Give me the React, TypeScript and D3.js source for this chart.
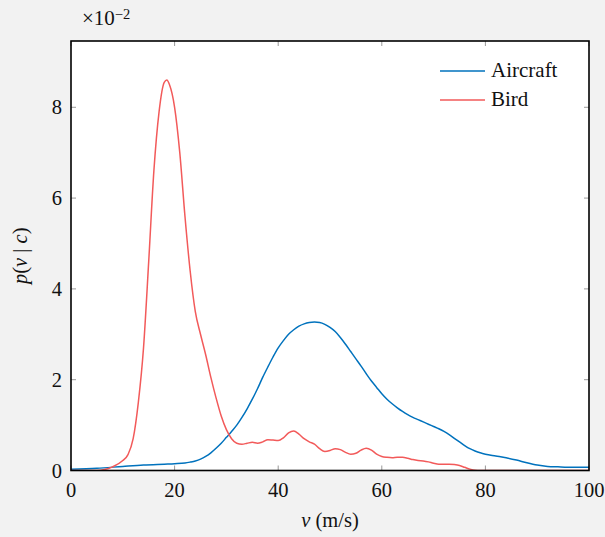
import React from "react";
import * as d3 from "d3";

const W = 605;
const H = 537;

const xTicks = [0, 20, 40, 60, 80, 100];
const yTicks = [0, 2, 4, 6, 8];

const aircraftV = [0, 5, 10, 14, 18, 20, 22, 23, 24, 25, 26, 27, 28, 29, 30, 31, 32, 33, 34, 35, 36, 37, 38, 39, 40, 41, 42, 43, 44, 45, 46, 47, 48, 49, 50, 51, 52, 53, 54, 55, 56, 57, 58, 59, 60, 61, 62, 63, 64, 65, 66, 67, 68, 69, 70, 71, 72, 73, 74, 75, 76, 77, 78, 79, 80, 82, 84, 86, 88, 90, 92, 94, 97, 100];
const aircraftP = [0.03, 0.05, 0.09, 0.12, 0.14, 0.15, 0.165, 0.185, 0.21, 0.25, 0.31, 0.39, 0.49, 0.6, 0.73, 0.86, 1.0, 1.17, 1.36, 1.57, 1.8, 2.05, 2.28, 2.5, 2.7, 2.86, 3.0, 3.1, 3.18, 3.23, 3.26, 3.27, 3.26, 3.22, 3.15, 3.06, 2.93, 2.78, 2.62, 2.46, 2.3, 2.13, 1.97, 1.83, 1.69, 1.57, 1.47, 1.38, 1.3, 1.23, 1.17, 1.12, 1.07, 1.02, 0.97, 0.92, 0.86, 0.79, 0.71, 0.63, 0.55, 0.48, 0.43, 0.39, 0.36, 0.32, 0.28, 0.23, 0.17, 0.12, 0.09, 0.08, 0.07, 0.07];

const birdV = [0, 5, 6.5, 8, 10, 11, 12, 13, 14, 15, 16, 17, 18, 18.5, 19, 20, 21, 22, 23, 24, 25, 26, 27, 28, 29, 30, 31, 32, 33, 34, 35, 36, 37, 38, 39, 40, 41, 42, 43, 44, 45, 46, 47, 48, 49, 50, 51, 52, 53, 54, 55, 56, 57, 58, 59, 60, 61, 62, 63, 64, 65, 66, 67, 68, 69, 70, 71, 72, 73, 74, 75, 76, 77, 78, 79, 90, 100];
const birdP = [0, 0, 0.02, 0.08, 0.22, 0.35, 0.7, 1.5, 2.7, 4.6, 6.6, 7.9, 8.55, 8.6, 8.5, 8.0, 7.0, 5.6, 4.4, 3.5, 3.0, 2.55, 2.05, 1.6, 1.2, 0.9, 0.7, 0.6, 0.58, 0.6, 0.62, 0.6, 0.63, 0.68, 0.67, 0.66, 0.72, 0.83, 0.87, 0.8, 0.7, 0.63, 0.58, 0.48, 0.42, 0.44, 0.48, 0.46, 0.4, 0.36, 0.38, 0.45, 0.49, 0.45, 0.36, 0.31, 0.29, 0.28, 0.29, 0.29, 0.27, 0.24, 0.22, 0.21, 0.19, 0.16, 0.14, 0.14, 0.14, 0.13, 0.11, 0.07, 0.03, 0.005, 0, 0, 0];

const seriesNames = ["Aircraft", "Bird"];
const seriesColors = ["#0072bd", "#f25a5a"];

const FONT = "Liberation Serif";

export default function App() {
  const left = 71, right = 589, top = 41, bottom = 470.5;
  const x = d3.scaleLinear().domain([0, 100]).range([left, right]);
  const y = d3.scaleLinear().domain([0, 9.46]).range([bottom, top]);
  const line = d3
    .line<[number, number]>()
    .x((d) => x(d[0]))
    .y((d) => y(d[1]))
    .curve(d3.curveMonotoneX);
  const aData = aircraftV.map((v, i) => [v, aircraftP[i]] as [number, number]);
  const bData = birdV.map((v, i) => [v, birdP[i]] as [number, number]);
  const series = [aData, bData];
  const tickLen = 5;
  const fs = 20.5;

  return (
    <svg
      width={W}
      height={H}
      style={{ position: "absolute", left: 0, top: 0, background: "#f2f2f2" }}
      fontFamily={FONT}
    >
      <rect x={0} y={0} width={W} height={H} fill="#f2f2f2" />
      <rect x={left} y={top} width={right - left} height={bottom - top} fill="#ffffff" />
      <defs>
        <clipPath id="clip">
          <rect x={left} y={top - 2} width={right - left} height={bottom - top + 2} />
        </clipPath>
      </defs>
      {xTicks.map((t) => (
        <g key={"xt" + t}>
          <line x1={x(t)} x2={x(t)} y1={bottom} y2={bottom - tickLen} stroke="#999" strokeWidth={1} />
          <line x1={x(t)} x2={x(t)} y1={top} y2={top + tickLen} stroke="#999" strokeWidth={1} />
          <text x={x(t)} y={497} textAnchor="middle" fontSize={fs} fill="#111">
            {t}
          </text>
        </g>
      ))}
      {yTicks.map((t) => (
        <g key={"yt" + t}>
          <line x1={left} x2={left + tickLen} y1={y(t)} y2={y(t)} stroke="#999" strokeWidth={1} />
          <line x1={right} x2={right - tickLen} y1={y(t)} y2={y(t)} stroke="#999" strokeWidth={1} />
          <text x={62} y={y(t) + 7} textAnchor="end" fontSize={fs} fill="#111">
            {t}
          </text>
        </g>
      ))}
      <g clipPath="url(#clip)">
        {series.map((d, i) => (
          <path key={i} d={line(d) || ""} fill="none" stroke={seriesColors[i]} strokeWidth={1.5} />
        ))}
      </g>
      <rect x={left} y={top} width={right - left} height={bottom - top} fill="none" stroke="#000" strokeWidth={1.6} />
      {seriesNames.map((n, i) => (
        <g key={n}>
          <line x1={440} x2={485} y1={71 + i * 29} y2={71 + i * 29} stroke={seriesColors[i]} strokeWidth={1.5} />
          <text x={491} y={77 + i * 29} fontSize={21} fill="#111">
            {n}
          </text>
        </g>
      ))}
      <text x={82} y={25} fontSize={21} fill="#111">
        ×10
        <tspan fontSize={14.5} dy={-6}>
          −2
        </tspan>
      </text>
      <text x={330} y={527} textAnchor="middle" fontSize={fs} fill="#111">
        <tspan fontStyle="italic">v</tspan> (m/s)
      </text>
      <text
        transform={`translate(27, ${(top + bottom) / 2}) rotate(-90)`}
        textAnchor="middle"
        fontSize={fs}
        fill="#111"
      >
        <tspan fontStyle="italic">p</tspan>(<tspan fontStyle="italic">v</tspan> | <tspan fontStyle="italic">c</tspan>)
      </text>
    </svg>
  );
}
